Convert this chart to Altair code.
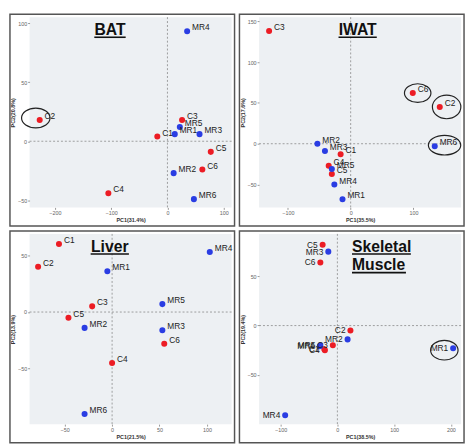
import altair as alt
import pandas as pd

# ---------------- data ----------------
labels = ["C1", "C2", "C3", "C4", "C5", "C6", "MR1", "MR2", "MR3", "MR4", "MR5", "MR6"]

bat_x = [-18, -227, 26, -105, 77, 62, 13, 11, 57, 35, 22, 47]
bat_y = [4, 18, 18, -44, -9, -24, 6, -27, 6, 93, 12, -49]

iwat_x = [-16, 142, -130, -35, -30, 99, -13, -53, -41, -26, -30, 134]
iwat_y = [-13, 45, 138, -27, -37, 62, -68, 0, -9, -50, -31, -3]

liver_x = [-56, -78, -21, 0, -46, 55, -5, -29, 53, 103, 53, -29]
liver_y = [60, 40, 5, -45, -5, -28, 36, -14, -16, 53, 7, -90]

skm_x = [-23, 23, -8, -22, -26, -30, 204, 18, -16, -92, -30, -31]
skm_y = [-24, -5, -20, -25, 82, 64, -23, -14, 75, -91, -20, -21]

bat_ticks_x = [-200, -100, 0, 100]
bat_ticks_y = [-50, 0, 50, 100]
iwat_ticks_x = [-100, 0, 100]
iwat_ticks_y = [-50, 0, 50, 100, 150]
liver_ticks_x = [-50, 0, 50, 100]
liver_ticks_y = [-50, 0, 50]
skm_ticks_x = [-100, 0, 100, 200]
skm_ticks_y = [-50, 0, 50]

# ---------------- style ----------------
PW, PH = 206, 194
L, R, T, B = 20, 3, 3, 19
RED, BLUE = "#ec1c24", "#2a3de3"
FONT = "Liberation Sans"


def ellipse_path(ratio):
    return f"M -1 0 A 1 {ratio} 0 1 0 1 0 A 1 {ratio} 0 1 0 -1 0 Z"


def make_panel(xs, ys, xdom, ydom, xt, yt, xtitle, ytitle, title_lines,
               title_x, title_align, underline_w, ellipses, label_side):
    df = pd.DataFrame({"label": labels, "x": xs, "y": ys})
    df["group"] = ["C" if s.startswith("C") else "MR" for s in labels]
    base = alt.Chart(df)
    xenc = alt.X("x:Q", scale=alt.Scale(domain=xdom, nice=False, zero=False),
                 axis=alt.Axis(values=xt, title=xtitle, format="d"))
    yenc = alt.Y("y:Q", scale=alt.Scale(domain=ydom, nice=False, zero=False),
                 axis=alt.Axis(values=yt, title=ytitle, format="d"))

    one = alt.Chart(pd.DataFrame({"a": [0]}))
    frame = one.mark_rect(fillOpacity=0, stroke="#555", strokeWidth=1.5).encode(
        x=alt.value(-L), x2=alt.value(PW + R), y=alt.value(-T), y2=alt.value(PH + B))
    vrule = one.mark_rule(color="#888", strokeDash=[2, 2], strokeWidth=0.8).encode(x=alt.datum(0))
    hrule = one.mark_rule(color="#888", strokeDash=[2, 2], strokeWidth=0.8).encode(y=alt.datum(0))

    pts = base.mark_circle(size=38, opacity=1).encode(
        x=xenc, y=yenc,
        color=alt.Color("group:N", scale=alt.Scale(domain=["C", "MR"], range=[RED, BLUE]), legend=None))

    if label_side == "right":
        txt = base.mark_text(align="left", baseline="middle", dx=5, dy=-4, fontSize=8.5,
                             font=FONT, color="#222").encode(x="x:Q", y="y:Q", text="label:N")
    else:
        txt = base.mark_text(align="right", baseline="middle", dx=-5, dy=0, fontSize=8.5,
                             font=FONT, color="#222").encode(x="x:Q", y="y:Q", text="label:N")

    layers = [frame, vrule, hrule]
    for (lab, w, h, dx, dy) in ellipses:
        layers.append(base.transform_filter(alt.datum.label == lab).mark_point(
            shape=ellipse_path(round(h / w, 3)), size=w * w, filled=False, color="#222",
            strokeWidth=1.2, opacity=1, xOffset=dx, yOffset=dy).encode(x="x:Q", y="y:Q"))
    layers += [pts, txt]

    tx = title_x * PW
    for i, line in enumerate(title_lines):
        base_y = 18 + i * 19
        layers.append(one.mark_text(align=title_align, baseline="alphabetic", fontSize=16,
                                    fontWeight="bold", font=FONT, color="#111", text=line).encode(
            x=alt.value(tx), y=alt.value(base_y)))
        w = underline_w[i]
        if title_align == "center":
            x1, x2 = tx - w / 2, tx + w / 2
        else:
            x1, x2 = tx, tx + w
        layers.append(one.mark_rule(color="#111", strokeWidth=1.6).encode(
            x=alt.value(x1), x2=alt.value(x2), y=alt.value(base_y + 2.5)))

    return alt.layer(*layers).properties(width=PW, height=PH)


bat = make_panel(bat_x, bat_y, [-245, 114], [-56, 105], bat_ticks_x, bat_ticks_y,
                 "PC1(31.4%)", "PC2(20.8%)", ["BAT"], 0.398, "center", [32],
                 [("C2", 29, 20, -4, -2)], "right")
iwat = make_panel(iwat_x, iwat_y, [-146, 176], [-78, 155], iwat_ticks_x, iwat_ticks_y,
                  "PC1(35.5%)", "PC2(17.6%)", ["IWAT"], 0.488, "center", [39],
                  [("C6", 27, 19, 5, 0), ("C2", 29, 24, 7, 0), ("MR6", 33, 20, 10, -1)], "right")
liver = make_panel(liver_x, liver_y, [-87, 126], [-99, 69], liver_ticks_x, liver_ticks_y,
                   "PC1(21.5%)", "PC2(13.9%)", ["Liver"], 0.397, "center", [39],
                   [], "right")
skm = make_panel(skm_x, skm_y, [-138, 218], [-100, 93], skm_ticks_x, skm_ticks_y,
                 "PC1(38.5%)", "PC2(19.4%)", ["Skeletal", "Muscle"], 0.46, "left", [60, 55],
                 [("MR1", 28, 20, -9, 2)], "left")

chart = alt.vconcat(
    alt.hconcat(bat, iwat, spacing=3),
    alt.hconcat(liver, skm, spacing=3),
    spacing=3,
).properties(padding=1).configure_view(fill="#edf0f3", strokeWidth=0).configure_axis(
    grid=False, domain=False, labelFontSize=5.5, titleFontSize=5.5, labelColor="#666",
    titleColor="#333", titleFontWeight="bold", tickSize=2, tickColor="#999",
    labelPadding=1, titlePadding=2, labelFont=FONT, titleFont=FONT)

chart.save("out.html", embed_options={"renderer": "svg", "actions": False})
